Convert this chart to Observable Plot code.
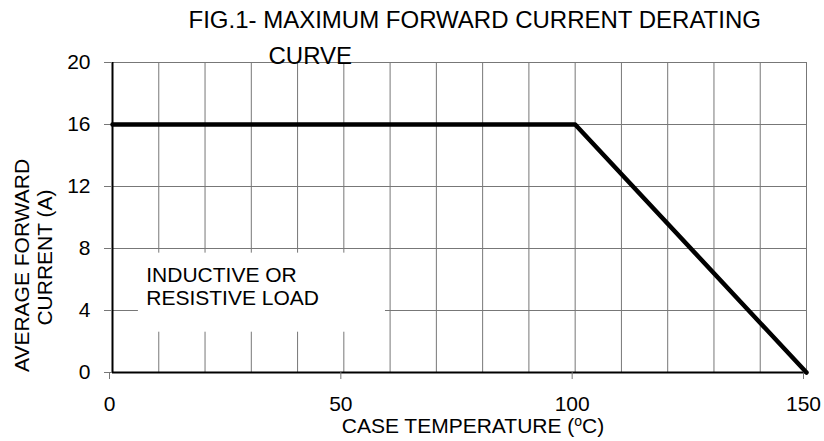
<!DOCTYPE html>
<html>
<head>
<meta charset="utf-8">
<script src="https://cdn.jsdelivr.net/npm/d3@7"></script>
<script src="https://cdn.jsdelivr.net/npm/@observablehq/plot@0.6"></script>
<style>
  html, body { margin: 0; padding: 0; background: white; }
</style>
</head>
<body>
<script>
// Derating curve data
const temperature = [0, 100, 150];        // case temperature (°C)
const current = [16, 16, 0];              // average forward current (A)
const xGridTicks = d3.range(0, 151, 10);
const xLabelTicks = [0, 50, 100, 150];
const yTicks = [0, 4, 8, 12, 16, 20];
const titleLine1 = "FIG.1- MAXIMUM FORWARD CURRENT DERATING";
const titleLine2 = "CURVE";
const xLabel = "CASE TEMPERATURE (oC)";
const yLabel1 = "AVERAGE FORWARD";
const yLabel2 = "CURRENT (A)";
const note = "INDUCTIVE OR\nRESISTIVE LOAD";

const data = temperature.map((t, i) => ({t, a: current[i]}));
const grid = "#777";

const chart = Plot.plot({
  width: 824,
  height: 441,
  marginLeft: 112,
  marginRight: 18,
  marginTop: 62,
  marginBottom: 69,
  style: {fontFamily: "'Liberation Sans', Arial, sans-serif", fontSize: "21px", background: "white", color: "black"},
  x: {domain: [0, 150]},
  y: {domain: [0, 20]},
  marks: [
    Plot.gridX(xGridTicks, {stroke: grid, strokeOpacity: 1, strokeWidth: 1}),
    Plot.gridY(yTicks, {stroke: grid, strokeOpacity: 1, strokeWidth: 1}),
    Plot.frame({stroke: grid, strokeWidth: 1}),
    Plot.rect([0], {x1: 5.6, x2: 59, y1: 2.6, y2: 7.7, fill: "white"}),
    Plot.ruleX([0], {stroke: "black", strokeWidth: 2}),
    Plot.ruleY([0], {stroke: "black", strokeWidth: 2}),
    Plot.axisY(yTicks, {tickSize: 8, tickPadding: 14, stroke: grid, fontSize: 21, label: null}),
    Plot.axisX(xLabelTicks, {tickSize: 7, tickPadding: 17, stroke: grid, fontSize: 21, dx: -3, label: null}),
    Plot.line(data, {x: "t", y: "a", stroke: "black", strokeWidth: 4.5}),
    Plot.text([note], {x: 7.3, y: 6.92, text: d => d, textAnchor: "start", lineAnchor: "top", lineHeight: 1.1, fontSize: 21}),
    Plot.text([titleLine1], {frameAnchor: "top-left", text: d => d, dx: 76, dy: -35, textAnchor: "start", lineAnchor: "bottom", fontSize: 24}),
    Plot.text([titleLine2], {frameAnchor: "top-left", text: d => d, dx: 156, dy: 1, textAnchor: "start", lineAnchor: "bottom", fontSize: 24}),
    Plot.text([xLabel], {frameAnchor: "bottom", text: d => d, dx: 13.5, dy: 60, textAnchor: "middle", lineAnchor: "bottom", fontSize: 21}),
    Plot.text([yLabel1], {frameAnchor: "left", text: d => d, rotate: -90, dx: -84, dy: 48, textAnchor: "middle", lineAnchor: "bottom", fontSize: 21}),
    Plot.text([yLabel2], {frameAnchor: "left", text: d => d, rotate: -90, dx: -61, dy: 40, textAnchor: "middle", lineAnchor: "bottom", fontSize: 21})
  ]
});

document.body.appendChild(chart);

// superscript "o" in the degree unit
d3.select(chart).selectAll("text").each(function() {
  const el = d3.select(this);
  if (el.text() === xLabel) {
    el.text(null);
    el.append("tspan").text("CASE TEMPERATURE (");
    el.append("tspan").attr("font-size", "14px").attr("dy", "-7").text("o");
    el.append("tspan").attr("dy", "7").text("C)");
  }
});
</script>
</body>
</html>
